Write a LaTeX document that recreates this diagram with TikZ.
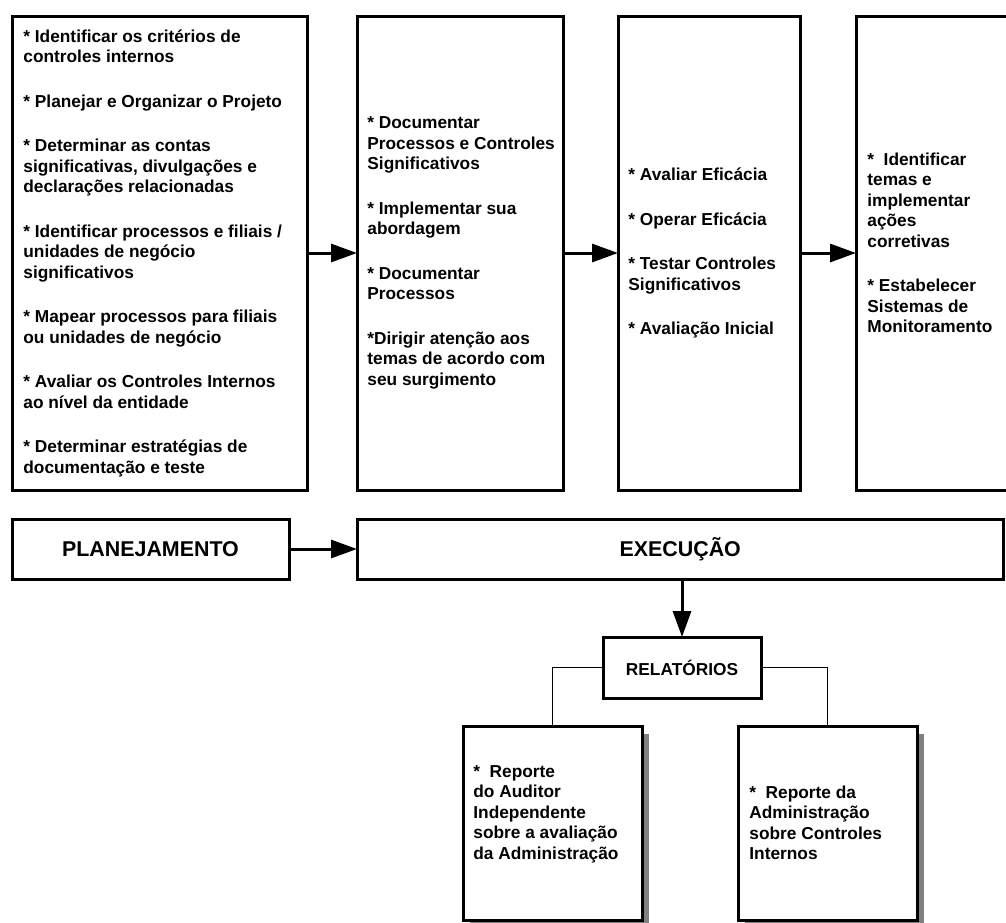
\documentclass[tikz,border=0pt]{standalone}
\usepackage{fontspec}
\setmainfont{Liberation Sans}
\usetikzlibrary{arrows.meta,shadows}

\begin{document}
\begin{tikzpicture}[x=0.5pt,y=-0.5pt,
    caixa/.style={draw,line width=1.5pt,fill=white,inner sep=0pt,outer sep=0pt,anchor=north west},
    texto/.style={font=\fontsize{8.65}{10.25}\selectfont\bfseries,align=left,inner sep=0pt,anchor=west},
    fase/.style={font=\fontsize{10.7}{12}\selectfont\bfseries},
    seta/.style={line width=1.5pt,-{Triangle[length=13pt,width=9pt]}},
    ligacao/.style={line width=0.8pt},
    sombra/.style={drop shadow={shadow xshift=3.25pt,shadow yshift=-4pt,fill=black!50,opacity=1}}]

        \useasboundingbox (0,0) rectangle (1006,922);
        \clip (0,0) rectangle (1006,922);

        % caixas das etapas
        \node[caixa,minimum width=147.5pt,minimum height=237pt] (b1) at (12,16) {};
        \node[caixa,minimum width=103pt,minimum height=237pt] (b2) at (357,16) {};
        \node[caixa,minimum width=91pt,minimum height=237pt] (b3) at (618,16) {};
        \node[caixa,minimum width=100pt,minimum height=237pt] (b4) at (856,16) {};

        % textos das etapas
        \node[texto] (t1) at ([xshift=5.5pt]b1.west) {* Identificar os critérios de\\
            controles internos\\[12pt]
            * Planejar e Organizar o Projeto\\[12pt]
            * Determinar as contas\\
            significativas, divulgações e\\
            declarações relacionadas\\[12pt]
            * Identificar processos e filiais /\\
            unidades de negócio\\
            significativos\\[12pt]
            * Mapear processos para filiais\\
            ou unidades de negócio\\[12pt]
            * Avaliar os Controles Internos\\
            ao nível da entidade\\[12pt]
            * Determinar estratégias de\\
            documentação e teste};
        \node[texto] (t2) at ([xshift=5pt]b2.west) {* Documentar\\
            Processos e Controles\\
            Significativos\\[12pt]
            * Implementar sua\\
            abordagem\\[12pt]
            * Documentar\\
            Processos\\[12pt]
            *Dirigir atenção aos\\
            temas de acordo com\\
            seu surgimento};
        \node[texto] (t3) at ([xshift=5pt]b3.west) {* Avaliar Eficácia\\[12pt]
            * Operar Eficácia\\[12pt]
            * Testar Controles\\
            Significativos\\[12pt]
            * Avaliação Inicial};
        \node[texto] (t4) at ([xshift=5.5pt,yshift=5pt]b4.west) {*~~Identificar\\
            temas e\\
            implementar\\
            ações\\
            corretivas\\[12pt]
            * Estabelecer\\
            Sistemas de\\
            Monitoramento};

        % setas entre as etapas
        \foreach \a/\b in {b1/b2,b2/b3,b3/b4}
        {
          \draw[seta] (\a) -- (\b);
        }

        % planejamento e execução
        \node[caixa,fase,minimum width=138.5pt,minimum height=30pt] (plan) at (12,519) {PLANEJAMENTO};
        \node[caixa,fase,minimum width=323.25pt,minimum height=30pt] (exec) at (357,519) {EXECUÇÃO};
        \draw[seta] (plan) -- (exec);

        % relatórios
        \node[caixa,font=\fontsize{8.65}{10}\selectfont\bfseries,minimum width=79pt,minimum height=30.5pt] (rel) at (603,637) {RELATÓRIOS};
        \draw[seta] (exec.south -| rel.north) -- (rel.north);

        \node[caixa,sombra,minimum width=89.5pt,minimum height=97pt] (rep1) at (463,726) {};
        \node[caixa,sombra,minimum width=89.5pt,minimum height=97pt] (rep2) at (738,726) {};
        \draw[ligacao] (rel.west) -| (rep1.north);
        \draw[ligacao] (rel.east) -| (rep2.north);

        \node[texto] (r1) at ([xshift=5pt,yshift=4.5pt]rep1.west) {*~~Reporte\\
            do Auditor\\
            Independente\\
            sobre a avaliação\\
            da Administração};
        \node[texto] (r2) at ([xshift=5.5pt]rep2.west) {*~~Reporte da\\
            Administração\\
            sobre Controles\\
            Internos};

\end{tikzpicture}
\end{document}
